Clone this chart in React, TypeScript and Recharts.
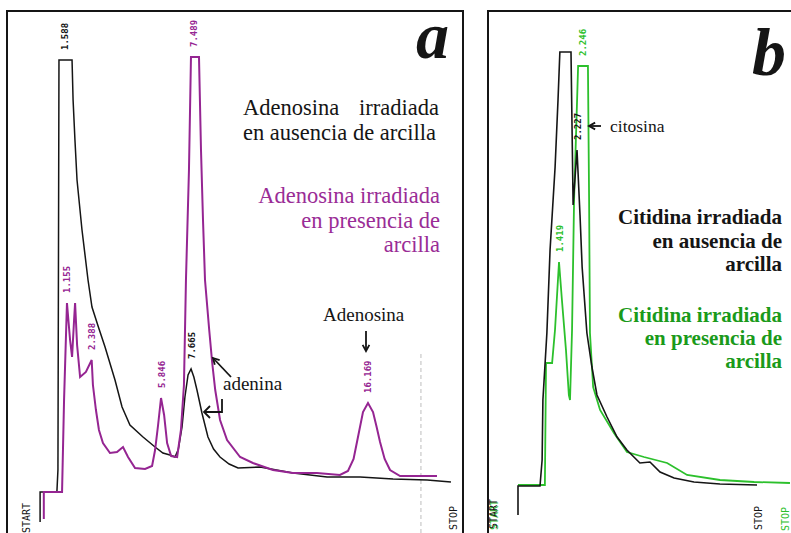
import { LineChart, Line, XAxis, YAxis, ReferenceDot, ReferenceLine } from 'recharts';

type Pt = { t: number; v: number };

// t = retention time (min), v = detector response (% of recorder full scale)
const adenosineAlone: Pt[] = [
  { t: 0.39, v: 0 }, { t: 0.39, v: 6 }, { t: 1.2, v: 6 }, { t: 1.25, v: 10.4 },
  { t: 1.3, v: 92.4 }, { t: 1.93, v: 92.4 }, { t: 1.98, v: 84.4 }, { t: 2.07, v: 76.4 },
  { t: 2.17, v: 68.4 }, { t: 2.41, v: 58.4 }, { t: 2.7, v: 48.4 }, { t: 2.89, v: 43 },
  { t: 3.2, v: 39 }, { t: 3.52, v: 35 }, { t: 4.0, v: 28.4 }, { t: 4.34, v: 23 },
  { t: 4.72, v: 19.4 }, { t: 5.35, v: 17 }, { t: 5.93, v: 15 }, { t: 6.31, v: 13.8 },
  { t: 6.65, v: 13.4 }, { t: 6.89, v: 13 }, { t: 7.05, v: 14.5 }, { t: 7.23, v: 19 },
  { t: 7.37, v: 25 }, { t: 7.52, v: 29.4 }, { t: 7.665, v: 30.6 }, { t: 7.8, v: 29 },
  { t: 7.95, v: 26.4 }, { t: 8.19, v: 21.8 }, { t: 8.48, v: 17 }, { t: 8.75, v: 14.6 },
  { t: 9.06, v: 13 }, { t: 9.5, v: 11.6 }, { t: 9.93, v: 10.8 }, { t: 10.99, v: 11 },
  { t: 12.58, v: 9.8 }, { t: 14.22, v: 9 }, { t: 15.81, v: 9 }, { t: 17.4, v: 8.6 },
  { t: 19.04, v: 8.4 }, { t: 20.19, v: 8 },
];

const adenosineClay: Pt[] = [
  { t: 0, v: 0.6 }, { t: 0, v: 6 }, { t: 0.91, v: 6 }, { t: 1.01, v: 24.4 },
  { t: 1.155, v: 43.8 }, { t: 1.31, v: 36.4 }, { t: 1.41, v: 33 }, { t: 1.51, v: 40.4 },
  { t: 1.56, v: 43.8 }, { t: 1.66, v: 35.4 }, { t: 1.81, v: 29 }, { t: 2.1, v: 30 },
  { t: 2.388, v: 32.4 }, { t: 2.45, v: 27.4 }, { t: 2.6, v: 22.4 }, { t: 2.75, v: 18.4 },
  { t: 2.95, v: 15.8 }, { t: 3.3, v: 13.8 }, { t: 3.65, v: 14 }, { t: 3.95, v: 15 },
  { t: 4.2, v: 13 }, { t: 4.55, v: 10.8 }, { t: 5.05, v: 10.6 }, { t: 5.4, v: 11.2 },
  { t: 5.55, v: 14.4 }, { t: 5.7, v: 19.4 }, { t: 5.846, v: 24.8 }, { t: 6.0, v: 21.4 },
  { t: 6.15, v: 15.8 }, { t: 6.35, v: 13.2 }, { t: 6.65, v: 13 }, { t: 6.84, v: 18.4 },
  { t: 6.99, v: 27.4 }, { t: 7.09, v: 48.4 }, { t: 7.24, v: 70.4 }, { t: 7.34, v: 93 },
  { t: 7.74, v: 93 }, { t: 7.84, v: 74.4 }, { t: 7.94, v: 60.4 }, { t: 8.04, v: 48.4 },
  { t: 8.25, v: 38.4 }, { t: 8.4, v: 31.8 }, { t: 8.55, v: 26.4 }, { t: 8.79, v: 20.4 },
  { t: 9.14, v: 16.4 }, { t: 9.79, v: 13 }, { t: 10.43, v: 11.8 }, { t: 11.43, v: 10.4 },
  { t: 12.42, v: 9.8 }, { t: 13.62, v: 9.8 }, { t: 14.77, v: 9.4 }, { t: 15.17, v: 10.2 },
  { t: 15.45, v: 12.6 }, { t: 15.62, v: 16 }, { t: 15.92, v: 22 }, { t: 16.169, v: 23.8 },
  { t: 16.42, v: 22 }, { t: 16.6, v: 19 }, { t: 16.77, v: 16 }, { t: 17.0, v: 12.6 },
  { t: 17.27, v: 10.4 }, { t: 17.77, v: 9.2 }, { t: 19.61, v: 9.2 },
];

const cytidineAlone: Pt[] = [
  { t: 0, v: 1.4 }, { t: 0, v: 7.2 }, { t: 0.83, v: 7.2 }, { t: 0.91, v: 12.4 },
  { t: 0.94, v: 24.4 }, { t: 1.09, v: 37.8 }, { t: 1.21, v: 54.4 }, { t: 1.4, v: 71 },
  { t: 1.51, v: 84.4 }, { t: 1.58, v: 94 }, { t: 2.0, v: 94 }, { t: 2.08, v: 63.4 },
  { t: 2.227, v: 74.4 }, { t: 2.34, v: 61.4 }, { t: 2.42, v: 51 }, { t: 2.6, v: 37.8 },
  { t: 2.79, v: 31 }, { t: 2.98, v: 25.4 }, { t: 3.36, v: 21 }, { t: 3.74, v: 17 },
  { t: 4.11, v: 14.4 }, { t: 4.6, v: 11.8 }, { t: 4.98, v: 12 }, { t: 5.36, v: 10 },
  { t: 5.89, v: 8.8 }, { t: 6.64, v: 8 }, { t: 7.62, v: 7.6 }, { t: 9.02, v: 7.4 },
];

const cytidineClay: Pt[] = [
  { t: 0, v: 7.4 }, { t: 0.93, v: 7.4 }, { t: 0.97, v: 31.8 }, { t: 1.18, v: 31.8 },
  { t: 1.28, v: 38.4 }, { t: 1.419, v: 52 }, { t: 1.52, v: 44.4 }, { t: 1.66, v: 34.4 },
  { t: 1.76, v: 25.4 }, { t: 1.8, v: 24.4 }, { t: 1.87, v: 38.4 }, { t: 1.94, v: 64.4 },
  { t: 2.08, v: 91.2 }, { t: 2.42, v: 91.2 }, { t: 2.46, v: 64.4 }, { t: 2.49, v: 37.8 },
  { t: 2.6, v: 27 }, { t: 2.84, v: 22.4 }, { t: 3.32, v: 17.8 }, { t: 3.77, v: 14 },
  { t: 4.36, v: 13 }, { t: 5.16, v: 11.8 }, { t: 5.85, v: 9.4 }, { t: 6.99, v: 8.4 },
  { t: 8.17, v: 8 }, { t: 9.41, v: 7.8 },
];

// retention times printed by the integrator above each peak
const adenosineAlonePeaks = [1.588, 7.665];
const adenosineClayPeaks = [1.155, 2.388, 5.846, 7.489, 16.169];
const cytidineAlonePeaks = [2.227];
const cytidineClayPeaks = [1.419, 2.246];

const adenosineStop = 18.81;

const INK = '#151515';
const PURPLE = '#952592';
const PURPLE_TEXT = '#9a2c96';
const GREEN = '#2cc02c';
const GREEN_TEXT = '#1a9a1a';
const MONO = "'DejaVu Sans Mono', monospace";
const SERIF = "'Liberation Serif', 'Times New Roman', serif";

const margin = { top: 22, right: 0, bottom: 11, left: 0 };

function levelAt(series: Pt[], t: number) {
  for (let i = 1; i < series.length; i++) {
    const a = series[i - 1];
    const b = series[i];
    if (b.t > a.t && t >= a.t && t <= b.t) return a.v + ((b.v - a.v) * (t - a.t)) / (b.t - a.t);
  }
  return 0;
}

const tag = (text: string, color: string) => (p: any) => (
  <text
    transform={`translate(${p.cx + 3.5},${p.cy - 10}) rotate(-90)`}
    fill={color}
    fontSize={9}
    fontWeight="bold"
    fontFamily={MONO}
  >
    {text}
  </text>
);

function peakTags(series: Pt[], peaks: number[], axis: string, color: string) {
  return peaks.map((t) => (
    <ReferenceDot
      key={`${axis}-${t}`}
      xAxisId={axis}
      x={t}
      y={levelAt(series, t)}
      r={0}
      shape={tag(t.toFixed(3), color)}
    />
  ));
}

function Arrow({ x1, y1, x2, y2 }: { x1: number; y1: number; x2: number; y2: number }) {
  const a = Math.atan2(y2 - y1, x2 - x1);
  const h = 7;
  const p1 = [x2 - h * Math.cos(a - 0.5), y2 - h * Math.sin(a - 0.5)];
  const p2 = [x2 - h * Math.cos(a + 0.5), y2 - h * Math.sin(a + 0.5)];
  return (
    <g stroke={INK} strokeWidth={1.8} fill="none">
      <line x1={x1} y1={y1} x2={x2} y2={y2} />
      <polyline points={`${p1[0]},${p1[1]} ${x2},${y2} ${p2[0]},${p2[1]}`} />
    </g>
  );
}

export default function App() {
  return (
    <div style={{ position: 'absolute', left: 0, top: 0, width: 791, height: 533, background: '#fff', overflow: 'hidden' }}>
      {/* a: adenosina */}
      <div style={{ position: 'absolute', left: 0, top: 0 }}>
        <LineChart width={470} height={533} margin={margin}>
          <XAxis xAxisId="alone" type="number" dataKey="t" domain={[-1.542, 21.108]} allowDataOverflow hide />
          <XAxis xAxisId="clay" type="number" dataKey="t" domain={[-2.185, 21.257]} allowDataOverflow hide />
          <YAxis type="number" domain={[0, 100]} allowDataOverflow hide />
          <ReferenceLine
            xAxisId="clay"
            segment={[{ x: adenosineStop, y: -2.2 }, { x: adenosineStop, y: 34 }]}
            stroke="#bdbdbd"
            strokeDasharray="4 3"
            ifOverflow="visible"
          />
          <Line xAxisId="alone" data={adenosineAlone} dataKey="v" type="linear" stroke={INK} strokeWidth={1.5} dot={false} isAnimationActive={false} />
          <Line xAxisId="clay" data={adenosineClay} dataKey="v" type="linear" stroke={PURPLE} strokeWidth={2} dot={false} isAnimationActive={false} />
          {peakTags(adenosineAlone, adenosineAlonePeaks, 'alone', INK)}
          {peakTags(adenosineClay, adenosineClayPeaks, 'clay', PURPLE)}
        </LineChart>
      </div>

      {/* b: citidina */}
      <div style={{ position: 'absolute', left: 488, top: 0 }}>
        <LineChart width={303} height={533} margin={margin}>
          <XAxis xAxisId="alone" type="number" dataKey="t" domain={[-1.132, 10.302]} allowDataOverflow hide />
          <XAxis xAxisId="clay" type="number" dataKey="t" domain={[-1.038, 9.446]} allowDataOverflow hide />
          <YAxis type="number" domain={[0, 100]} allowDataOverflow hide />
          <Line xAxisId="clay" data={cytidineClay} dataKey="v" type="linear" stroke={GREEN} strokeWidth={1.8} dot={false} isAnimationActive={false} />
          <Line xAxisId="alone" data={cytidineAlone} dataKey="v" type="linear" stroke={INK} strokeWidth={1.6} dot={false} isAnimationActive={false} />
          {peakTags(cytidineAlone, cytidineAlonePeaks, 'alone', INK)}
          {peakTags(cytidineClay, cytidineClayPeaks, 'clay', GREEN)}
        </LineChart>
      </div>

      {/* frames, captions and arrows */}
      <svg width={791} height={533} style={{ position: 'absolute', left: 0, top: 0, pointerEvents: 'none' }}>
        <g stroke={INK} strokeWidth={2} fill="none">
          <polyline points="7,533 7,11 463,11 463,533" />
          <polyline points="488,533 488,11 791,11" />
        </g>

        <text x={449} y={58} textAnchor="end" fontFamily={SERIF} fontStyle="italic" fontWeight="bold" fontSize={66} fill={INK}>a</text>
        <text x={786} y={75} textAnchor="end" fontFamily={SERIF} fontStyle="italic" fontWeight="bold" fontSize={68} fill={INK}>b</text>

        <g fontFamily={SERIF} fontSize={22.5} fill={INK}>
          <text x={243} y={115}>Adenosina</text>
          <text x={439} y={115} textAnchor="end">irradiada</text>
          <text x={243} y={140}>en ausencia de arcilla</text>
        </g>
        <g fontFamily={SERIF} fontSize={22.5} fill={PURPLE_TEXT} textAnchor="end">
          <text x={440} y={203}>Adenosina irradiada</text>
          <text x={440} y={228}>en presencia de</text>
          <text x={440} y={252}>arcilla</text>
        </g>

        <g fontFamily={SERIF} fontSize={19} fill={INK}>
          <text x={223} y={390}>adenina</text>
          <text x={323} y={321}>Adenosina</text>
          <text x={610} y={132} fontSize={17.5}>citosina</text>
        </g>
        <Arrow x1={231} y1={377} x2={213} y2={358} />
        <g stroke={INK} strokeWidth={1.8} fill="none">
          <polyline points="222,399 222,412 204,412" />
          <polyline points="210,406 204,412 210,418" />
        </g>
        <Arrow x1={366} y1={331} x2={366} y2={351} />
        <Arrow x1={601} y1={126} x2={589} y2={126} />

        <g fontFamily={SERIF} fontSize={21} fontWeight="bold" textAnchor="end">
          <text x={782} y={224} fill={INK}>Citidina irradiada</text>
          <text x={782} y={248} fill={INK}>en ausencia de</text>
          <text x={782} y={271} fill={INK}>arcilla</text>
          <text x={782} y={322} fill={GREEN_TEXT}>Citidina irradiada</text>
          <text x={782} y={345} fill={GREEN_TEXT}>en presencia de</text>
          <text x={782} y={368} fill={GREEN_TEXT}>arcilla</text>
        </g>

        <g fontFamily={MONO} fontSize={10}>
          <text transform="translate(30,533) rotate(-90)" fill={INK}>START</text>
          <text transform="translate(457,530) rotate(-90)" fill={INK}>STOP</text>
          <text transform="translate(498,530) rotate(-90)" fill={GREEN}>START</text>
          <text transform="translate(497,529) rotate(-90)" fill={INK}>START</text>
          <text transform="translate(762,530) rotate(-90)" fill={INK}>STOP</text>
          <text transform="translate(789,531) rotate(-90)" fill={GREEN}>STOP</text>
        </g>
      </svg>
    </div>
  );
}
